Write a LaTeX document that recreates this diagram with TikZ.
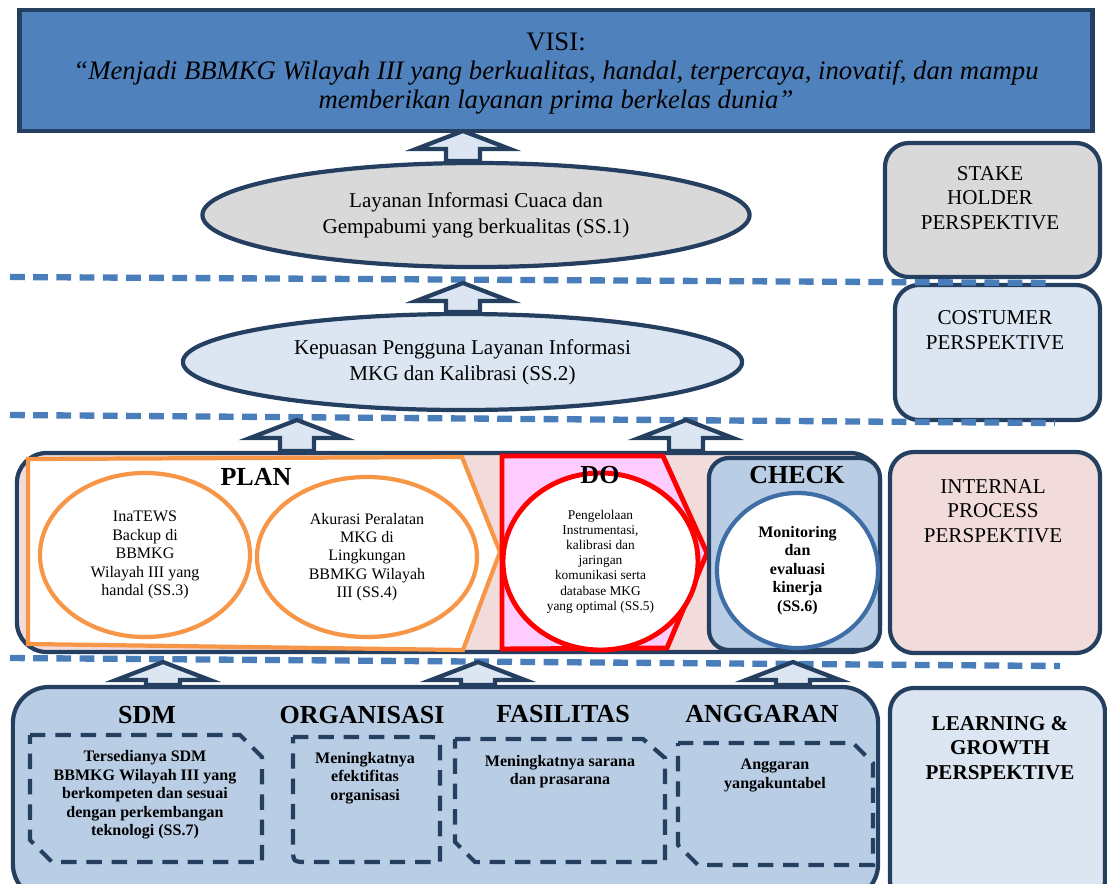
\documentclass[tikz,border=0pt]{standalone}
\usepackage{fontspec}
\setmainfont{Liberation Serif}
\usetikzlibrary{calc,shapes.geometric}

\definecolor{darknavy}{HTML}{253F61}
\definecolor{visiblue}{HTML}{4F81BD}
\definecolor{boxgray}{HTML}{D9D9D9}
\definecolor{paleblue}{HTML}{DCE6F2}
\definecolor{midblue}{HTML}{B9CDE5}
\definecolor{pinkbg}{HTML}{F2DCDB}
\definecolor{planorange}{HTML}{F79646}
\definecolor{dopink}{HTML}{FFCCFF}
\definecolor{checkblue}{HTML}{3F6EA6}
\definecolor{lineblue}{HTML}{4A7EBB}

\tikzset{
	navyline/.style={draw=darknavy, line width=3pt},
	visibox/.style={rectangle, navyline, line width=3.5pt, fill=visiblue, minimum width=26.8cm, minimum height=3.025cm},
	visitext/.style={align=center, font=\fontsize{19}{20.6}\selectfont},
	goalell/.style={ellipse, navyline, inner sep=0pt, align=center, font=\fontsize{15}{18.5}\selectfont},
	persbox/.style={rectangle, rounded corners=0.6cm, navyline},
	perstext/.style={align=center, font=\fontsize{15}{17.5}\selectfont},
	planell/.style={ellipse, draw=planorange, line width=3pt, fill=white, inner sep=0pt, align=center, font=\fontsize{11.4}{13.1}\selectfont},
	areatitle/.style={font=\bfseries\fontsize{18.5}{22}\selectfont},
	ssbold/.style={align=center, font=\bfseries\fontsize{11.4}{13.1}\selectfont},
	dashbox/.style={draw=darknavy, line width=3pt, dash pattern=on 11pt off 7pt},
	perline/.style={draw=lineblue, line width=4.5pt, dash pattern=on 10.5pt off 6pt},
	uparr/.style={draw=darknavy, line width=3pt, fill=paleblue, line join=miter},
}

% block arrow: (bottom)(tip)
\def\uparrowbox(#1)(#2){\draw[uparr] ($(#1)+(-17,0)$) -- ($(#2)+(-17,18)$) -- ($(#2)+(-47,18)$) -- (#2) -- ($(#2)+(47,18)$) -- ($(#2)+(17,18)$) -- ($(#1)+(17,0)$) -- cycle;}

\begin{document}
\begin{tikzpicture}[x=0.025cm, y=-0.025cm]
			%%%%% START %%%%%
			\useasboundingbox (0,0) rectangle (1107,883);
			\clip (0,0) rectangle (1107,883);
			
			% visi
			\node[visibox] (visi) at (556,70.5) {};
			\node[visitext] (visilbl) at (556,74) {VISI:\\{\itshape “Menjadi BBMKG Wilayah III yang berkualitas, handal, terpercaya, inovatif, dan mampu}\\{\itshape memberikan layanan prima berkelas dunia”}};
			
			% stake holder / costumer
			\node[goalell, fill=boxgray, minimum width=13.675cm, minimum height=2.6cm] (ss1) at (476,215) {Layanan Informasi Cuaca dan\\Gempabumi yang berkualitas (SS.1)};
			\node[goalell, fill=paleblue, minimum width=13.975cm, minimum height=2.4cm] (ss2) at (462.5,362) {Kepuasan Pengguna Layanan Informasi\\MKG dan Kalibrasi (SS.2)};
			
			% internal process
			\node[persbox, rounded corners=0.75cm, fill=pinkbg, minimum width=21.575cm, minimum height=4.975cm] (intbox) at (448.5,552.5) {};
			
			\draw[draw=planorange, line width=3pt, fill=white] (28,459) -- (462,457) -- (500,552) -- (463,650) -- (28,644) -- cycle;
			\node[areatitle] (plan) at (256,477) {PLAN};
			\node[planell, minimum width=5.25cm, minimum height=4.1cm] (ss3) at (145,555) {InaTEWS\\Backup di\\BBMKG\\Wilayah III yang\\handal (SS.3)};
			\node[planell, minimum width=5.5cm, minimum height=4cm] (ss4) at (367,557) {Akurasi Peralatan\\MKG di\\Lingkungan\\BBMKG Wilayah\\III (SS.4)};
			
			\draw[draw=red, line width=3.5pt, fill=dopink] (502,456) -- (663,456) -- (707,553) -- (667,648) -- (502,649) -- cycle;
			\node[ellipse, draw=red, line width=3.5pt, fill=white, minimum width=4.875cm, minimum height=4.425cm, inner sep=0pt, align=center, font=\fontsize{9.5}{10.8}\selectfont] (ss5) at (600.5,561.5) {Pengelolaan\\Instrumentasi,\\kalibrasi dan\\jaringan\\komunikasi serta\\database MKG\\yang optimal (SS.5)};
			\node[areatitle] (do) at (600,475) {DO};
			
			\node[persbox, rounded corners=0.5cm, fill=midblue, minimum width=4.275cm, minimum height=4.8cm] (checkbox) at (794.5,554) {};
			\node[ellipse, draw=checkblue, line width=3pt, fill=white, minimum width=4.025cm, minimum height=3.875cm, inner sep=0pt, ssbold] (ss6) at (797.5,570.5) {Monitoring\\dan\\evaluasi\\kinerja\\(SS.6)};
			\node[areatitle] (check) at (797,475) {CHECK};
			
			% learning & growth
			\node[persbox, rounded corners=0.9cm, fill=midblue, minimum width=21.625cm, minimum height=5.325cm] (lgbox) at (445.5,793.5) {};
			\node[areatitle] (sdm) at (147,715) {SDM};
			\node[areatitle] (organisasi) at (362,715) {ORGANISASI};
			\node[areatitle] (fasilitas) at (563,714) {FASILITAS};
			\node[areatitle] (anggaran) at (762,714) {ANGGARAN};
			
			\draw[dashbox] (30,735) -- (240,735) -- (262,757) -- (262,862) -- (52,862) -- (30,840) -- cycle;
			\draw[dashbox] (293,737) -- (425,737) .. controls (440,737) .. (440,752) -- (440,862) -- (308,862) .. controls (293,862) .. (293,847) -- cycle;
			\draw[dashbox] (455,739) -- (643,739) -- (665,758) -- (665,862) -- (475,862) -- (455,842) -- cycle;
			\draw[dashbox] (678,743) -- (853,743) -- (873,763) -- (873,865) -- (698,865) -- (678,845) -- cycle;
			
			\node[ssbold] (ss7) at (145,795) {Tersedianya SDM\\BBMKG Wilayah III yang\\berkompeten dan sesuai\\dengan perkembangan\\teknologi (SS.7)};
			\node[ssbold] (orgtext) at (365,778) {Meningkatnya\\efektifitas\\organisasi};
			\node[ssbold] (fastext) at (560,771.5) {Meningkatnya sarana\\dan prasarana};
			\node[ssbold] (angtext) at (775,775.5) {Anggaran\\yangakuntabel};
			
			% perspectives
			\node[persbox, fill=boxgray, minimum width=5.375cm, minimum height=3.35cm] (stake) at (992.5,210) {};
			\node[persbox, fill=paleblue, minimum width=5.125cm, minimum height=3.375cm] (costumer) at (997.5,352.5) {};
			\node[persbox, fill=pinkbg, minimum width=5.25cm, minimum height=5.025cm] (internal) at (995,552.5) {};
			\node[persbox, fill=paleblue, minimum width=5.375cm, minimum height=5.425cm] (learning) at (997.5,796.5) {};
			\node[perstext] (stakelbl) at (990,198) {STAKE\\HOLDER\\PERSPEKTIVE};
			\node[perstext] (costumerlbl) at (995,330) {COSTUMER\\PERSPEKTIVE};
			\node[perstext] (internallbl) at (993,511) {INTERNAL\\PROCESS\\PERSPEKTIVE};
			\node[perstext, font=\bfseries\fontsize{15}{17.5}\selectfont] (learninglbl) at (1000,748) {LEARNING \&\\GROWTH\\PERSPEKTIVE};
			
			% dashed borders
			\draw[perline] (10,277) -- (1053,283);
			\draw[perline] (10,415) -- (1055,423);
			\draw[perline] (10,658) -- (1060,666);
			
			% arrows
			\coordinate (a1t) at (463,131);
			\coordinate (a2t) at (463,283);
			\coordinate (a3t) at (297,420);
			\coordinate (a4t) at (686,420);
			\coordinate (a5t) at (163,662);
			\coordinate (a6t) at (478,662);
			\coordinate (a7t) at (793,662);
			\uparrowbox(a1t |- ss1.north)(a1t)
			\uparrowbox(a2t |- ss2.north)(a2t)
			\uparrowbox(a3t |- intbox.north)(a3t)
			\uparrowbox(a4t |- intbox.north)(a4t)
			\uparrowbox(a5t |- lgbox.north)(a5t)
			\uparrowbox(a6t |- lgbox.north)(a6t)
			\uparrowbox(a7t |- lgbox.north)(a7t)
			
			%%%%% END %%%%%
\end{tikzpicture}
\end{document}
